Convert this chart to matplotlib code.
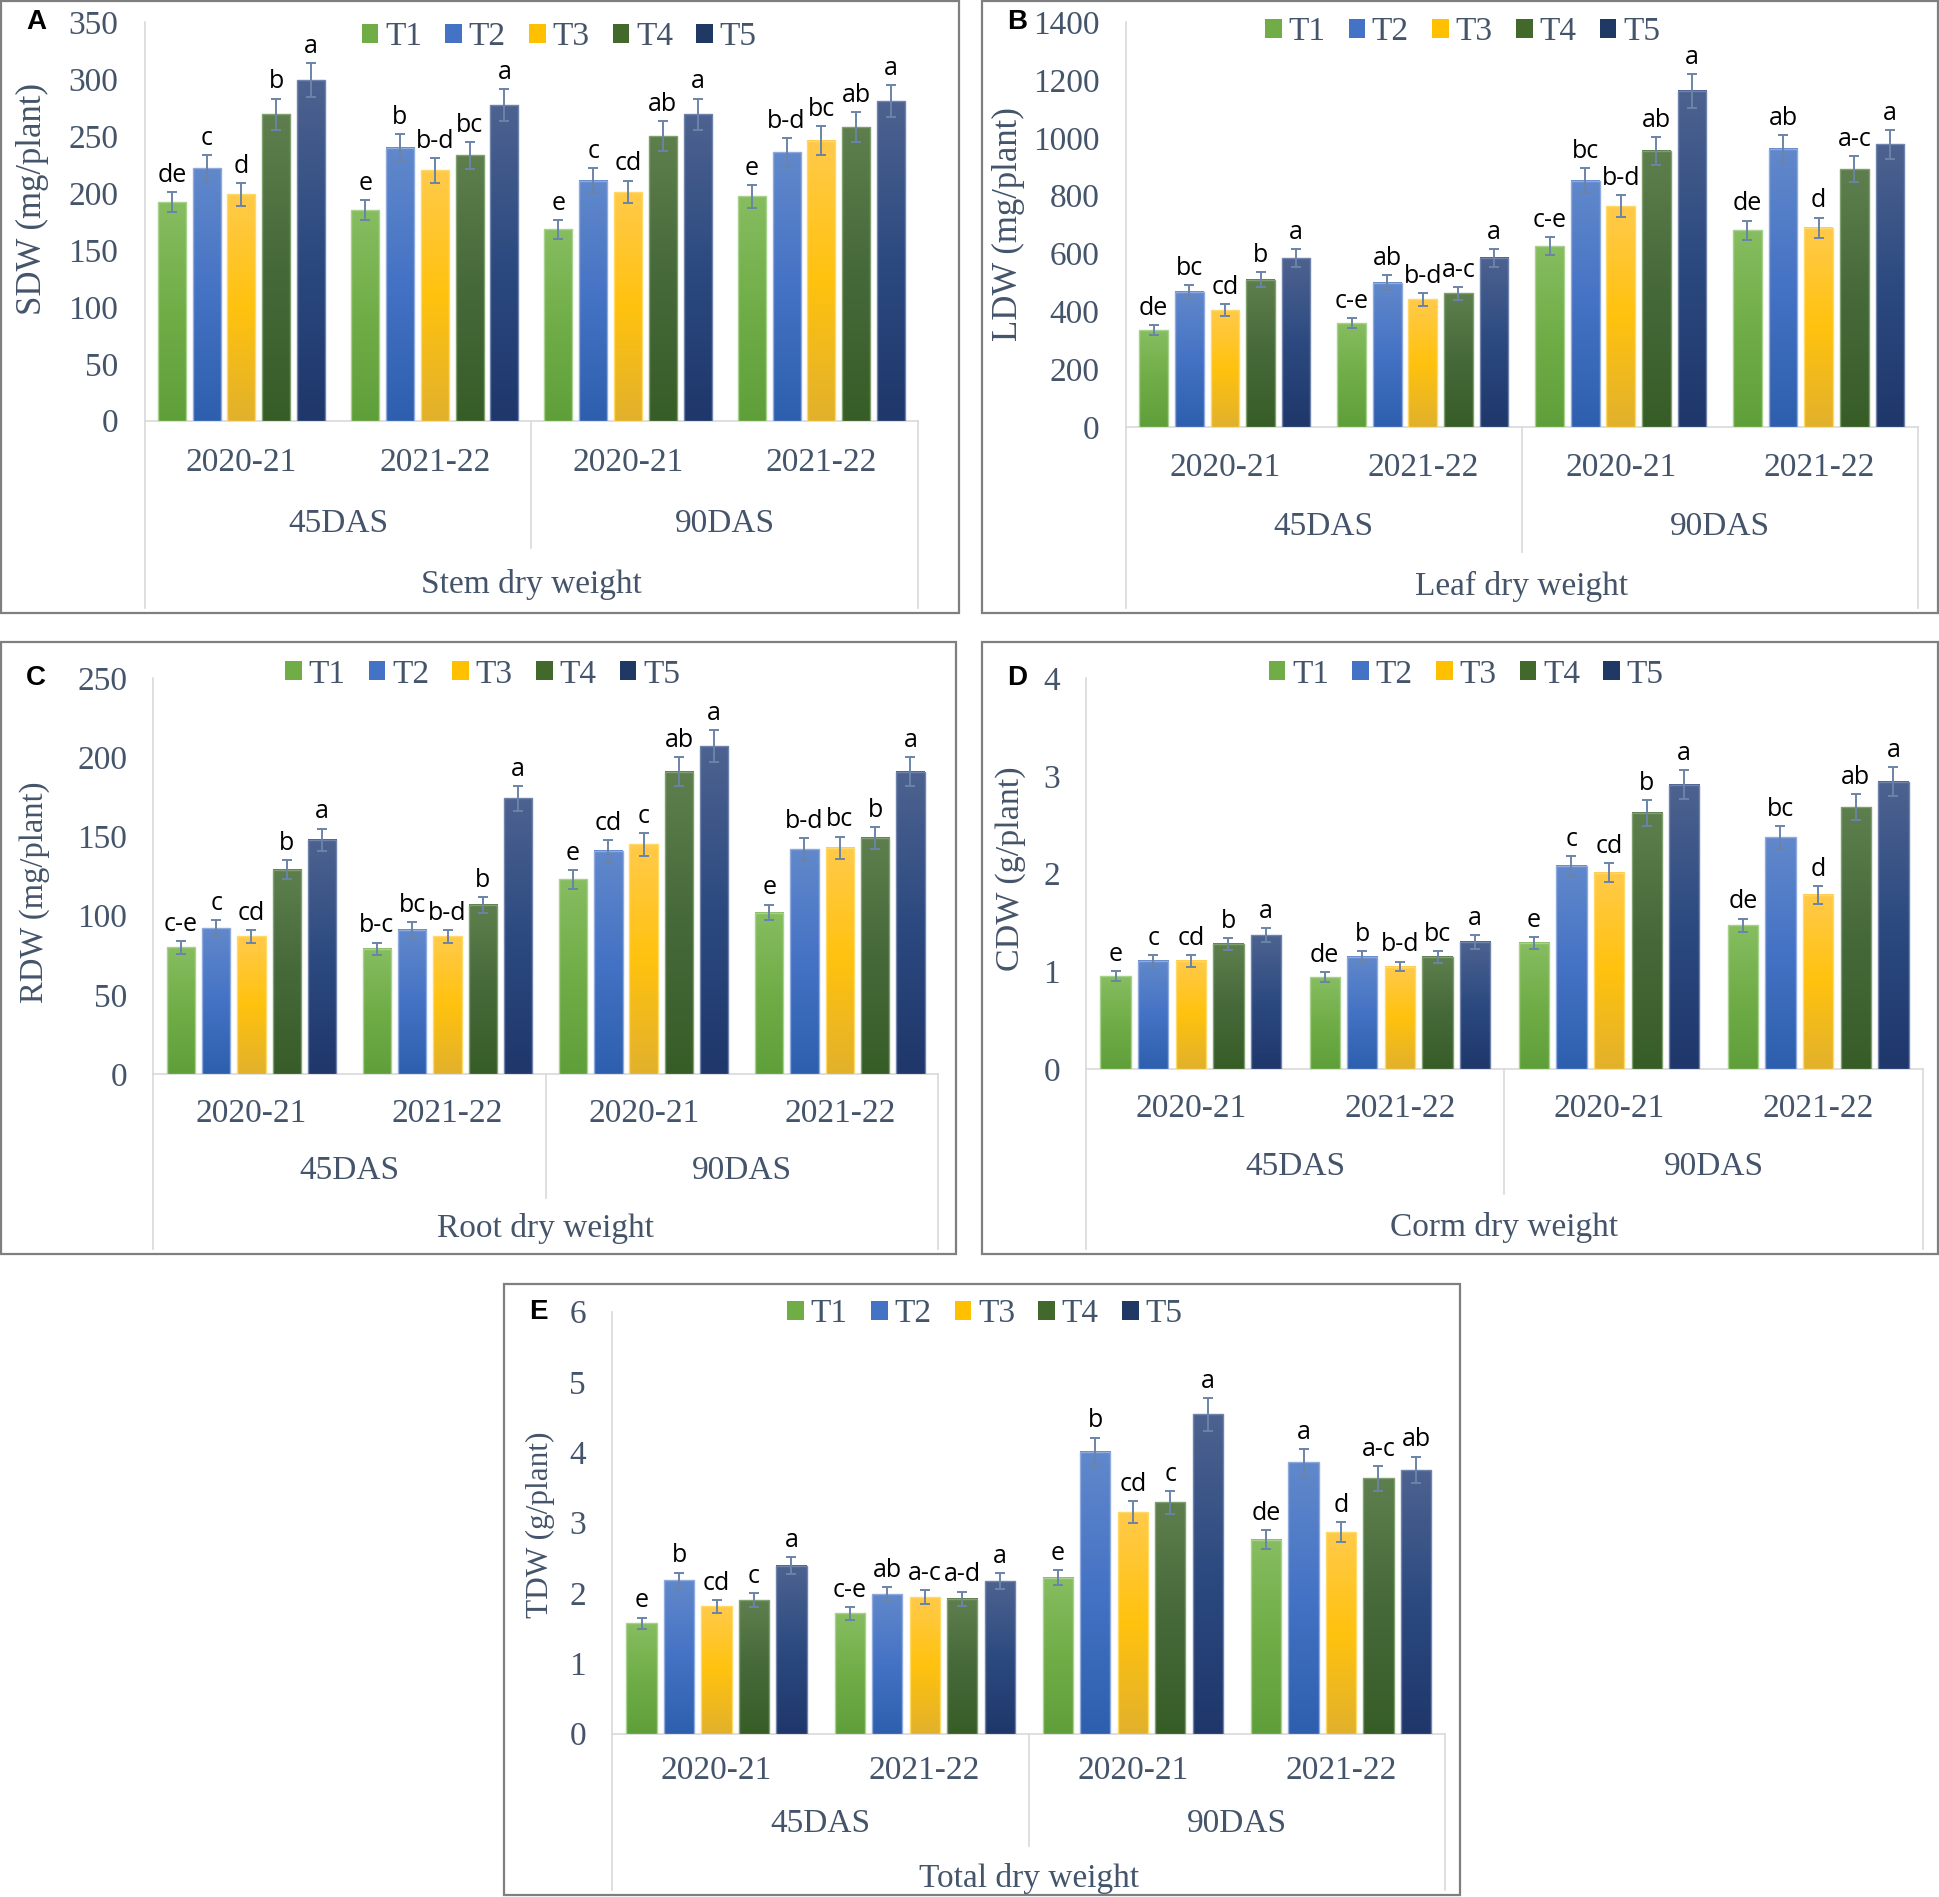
import numpy as np
from matplotlib import pyplot as plt
from matplotlib.colors import LinearSegmentedColormap
from matplotlib.patches import Rectangle, Patch
from matplotlib.transforms import blended_transform_factory

# ---- data -------------------------------------------------------------
treatments = ['T1', 'T2', 'T3', 'T4', 'T5']
years = ['2020-21', '2021-22', '2020-21', '2021-22']
stages = ['45DAS', '90DAS']

sdw = [[192, 222, 199, 269, 299], [185, 240, 220, 233, 277],
       [168, 211, 201, 250, 269], [197, 236, 246, 258, 281]]
sdw_err = [[9, 11, 10, 14, 15], [9, 12, 11, 12, 14],
           [8, 11, 10, 13, 14], [10, 12, 13, 13, 14]]
sdw_let = [['de', 'c', 'd', 'b', 'a'], ['e', 'b', 'b-d', 'bc', 'a'],
           ['e', 'c', 'cd', 'ab', 'a'], ['e', 'b-d', 'bc', 'ab', 'a']]

ldw = [[334, 468, 404, 510, 584], [359, 499, 441, 462, 585],
       [625, 852, 763, 955, 1163], [680, 962, 689, 892, 978]]
ldw_err = [[17, 24, 20, 26, 30], [18, 25, 22, 23, 30],
           [31, 43, 38, 48, 58], [34, 48, 35, 45, 50]]
ldw_let = [['de', 'bc', 'cd', 'b', 'a'], ['c-e', 'ab', 'b-d', 'a-c', 'a'],
           ['c-e', 'bc', 'b-d', 'ab', 'a'], ['de', 'ab', 'd', 'a-c', 'a']]

rdw = [[80, 92, 87, 129, 148], [79, 91, 87, 107, 174],
       [123, 141, 145, 191, 207], [102, 142, 143, 149, 191]]
rdw_err = [[4, 5, 4, 6, 7], [4, 5, 4, 5, 8],
           [6, 7, 7, 9, 10], [5, 7, 7, 7, 9]]
rdw_let = [['c-e', 'c', 'cd', 'b', 'a'], ['b-c', 'bc', 'b-d', 'b', 'a'],
           ['e', 'cd', 'c', 'ab', 'a'], ['e', 'b-d', 'bc', 'b', 'a']]

cdw = [[0.95, 1.11, 1.11, 1.28, 1.37], [0.94, 1.15, 1.05, 1.15, 1.30],
       [1.29, 2.08, 2.01, 2.62, 2.91], [1.47, 2.37, 1.78, 2.68, 2.94]]
cdw_err = [[0.05, 0.06, 0.06, 0.06, 0.07], [0.05, 0.06, 0.05, 0.06, 0.07],
           [0.06, 0.10, 0.10, 0.13, 0.15], [0.07, 0.12, 0.09, 0.13, 0.15]]
cdw_let = [['e', 'c', 'cd', 'b', 'a'], ['de', 'b', 'b-d', 'bc', 'a'],
           ['e', 'c', 'cd', 'b', 'a'], ['de', 'bc', 'd', 'ab', 'a']]

tdw = [[1.57, 2.18, 1.81, 1.90, 2.39], [1.71, 1.99, 1.94, 1.92, 2.17],
       [2.22, 4.01, 3.15, 3.29, 4.54], [2.76, 3.86, 2.87, 3.63, 3.75]]
tdw_err = [[0.08, 0.11, 0.09, 0.10, 0.12], [0.09, 0.10, 0.10, 0.10, 0.11],
           [0.11, 0.20, 0.16, 0.16, 0.23], [0.14, 0.19, 0.14, 0.18, 0.19]]
tdw_let = [['e', 'b', 'cd', 'c', 'a'], ['c-e', 'ab', 'a-c', 'a-d', 'a'],
           ['e', 'b', 'cd', 'c', 'a'], ['de', 'a', 'd', 'a-c', 'ab']]

# ---- style ------------------------------------------------------------
grad = [('#86bd60', '#70ad47', '#5f9f3a'),
        ('#6188cb', '#4472c4', '#2e5fae'),
        ('#ffca4a', '#ffc20e', '#e2b12c'),
        ('#5e7f4d', '#46693a', '#375d27'),
        ('#4d6290', '#2c4a80', '#1f376b')]
edge = ['#a9d18e', '#8faadc', '#ffd966', '#7f9f6e', '#6f83ab']
legend_cols = ['#70AD47', '#4472C4', '#FFC000', '#43682B', '#203864']
txt = '#44546A'
grid = '#D9D9D9'
serif = 'Liberation Serif'

W, H = 1568.0, 1533.0


def fx(x):
    return x / W


def fy(y):
    return 1 - y / H


fig = plt.figure(figsize=(19.40, 18.97), dpi=100)

# panel layout in reference pixel coords
panels = [
    dict(tag='A', data=sdw, err=sdw_err, let=sdw_let, ymax=350, step=50,
         ylabel='SDW (mg/plant)', title='Stem dry weight',
         box=(1, 1, 775, 495), ax=(117, 18, 742, 340), rows=(374, 423, 472),
         yl=(26, 161, 25), sep=443, bot=491, leg=(452, 30)),
    dict(tag='B', data=ldw, err=ldw_err, let=ldw_let, ymax=1400, step=200,
         ylabel='LDW (mg/plant)', title='Leaf dry weight',
         box=(794, 1, 1566, 495), ax=(910, 18, 1550, 345), rows=(378, 426, 474),
         yl=(815, 181, 25), sep=446, bot=491, leg=(1182, 26)),
    dict(tag='C', data=rdw, err=rdw_err, let=rdw_let, ymax=250, step=50,
         ylabel='RDW (mg/plant)', title='Root dry weight',
         box=(1, 519, 773, 1013), ax=(124, 548, 758, 868), rows=(900, 946, 993),
         yl=(28, 721, 23.5), sep=968, bot=1009, leg=(390, 545)),
    dict(tag='D', data=cdw, err=cdw_err, let=cdw_let, ymax=4, step=1,
         ylabel='CDW (g/plant)', title='Corm dry weight',
         box=(794, 519, 1566, 1013), ax=(878, 548, 1554, 864), rows=(896, 943, 992),
         yl=(817, 702, 24.5), sep=965, bot=1009, leg=(1185, 545)),
    dict(tag='E', data=tdw, err=tdw_err, let=tdw_let, ymax=6, step=1,
         ylabel='TDW (g/plant)', title='Total dry weight',
         box=(407, 1038, 1180, 1531), ax=(495, 1060, 1168, 1401), rows=(1431, 1474, 1518),
         yl=(437, 1232, 22.5), sep=1492, bot=1527, leg=(796, 1062)),
]

step_x = 0.18
bar_w = 0.145
grad_arr = np.linspace(0, 1, 100).reshape(-1, 1)

for p in panels:
    x0, y0, x1, y1 = p['box']
    fig.add_artist(Rectangle((fx(x0), fy(y1)), fx(x1) - fx(x0), fy(y0) - fy(y1),
                             transform=fig.transFigure, fill=False,
                             edgecolor='#7f7f7f', lw=1.6))
    l, t, r, b = p['ax']
    ax = fig.add_axes([fx(l), fy(b), fx(r) - fx(l), fy(t) - fy(b)])
    vals = np.array(p['data'])
    errs = np.array(p['err'])
    groups = np.arange(len(years))
    for i, name in enumerate(treatments):
        xs = groups + (i - 2) * step_x
        bars = ax.bar(xs, vals[:, i], width=bar_w, facecolor='none',
                      edgecolor=edge[i], lw=1.0, zorder=3)
        cmap = LinearSegmentedColormap.from_list(name, [grad[i][2], grad[i][1], grad[i][0]])
        for rect in bars:
            bx, bw, bh = rect.get_x(), rect.get_width(), rect.get_height()
            ax.imshow(grad_arr, extent=[bx, bx + bw, 0, bh], origin='lower',
                      cmap=cmap, aspect='auto', zorder=2, interpolation='bilinear')
        ax.errorbar(xs, vals[:, i], yerr=errs[:, i], fmt='none', ecolor='#6a84a8',
                    elinewidth=1.4, capsize=3.6, capthick=1.4, zorder=4)
        for j in groups:
            ax.annotate(p['let'][j][i], (xs[j], vals[j, i] + errs[j, i]),
                        xytext=(0, 3), textcoords='offset points', ha='center',
                        va='bottom', fontsize=18, family='Open Sans', color='black',
                        zorder=5)
    ax.set_xlim(-0.5, len(years) - 0.5)
    ax.set_ylim(0, p['ymax'])
    ax.set_yticks(np.arange(0, p['ymax'] + p['step'] / 2, p['step']))
    ax.set_xticks([])
    for s in ax.spines.values():
        s.set_visible(False)
    ax.tick_params(axis='y', length=0, pad=19, labelsize=24, labelcolor=txt)
    for lab in ax.get_yticklabels():
        lab.set_family(serif)

    # category axis
    tr = blended_transform_factory(ax.transData, fig.transFigure)
    for j, yr in enumerate(years):
        ax.text(j, fy(p['rows'][0]), yr, transform=tr, ha='center', va='center',
                fontsize=24, family=serif, color=txt)
    for k, st in enumerate(stages):
        ax.text(0.5 + 2 * k, fy(p['rows'][1]), st, transform=tr, ha='center',
                va='center', fontsize=24, family=serif, color=txt)
    ax.text(1.5, fy(p['rows'][2]), p['title'], transform=tr, ha='center',
            va='center', fontsize=24, family=serif, color=txt)
    ax.plot([-0.5, -0.5], [fy(t), fy(p['bot'])], transform=tr, color=grid,
            lw=1.2, clip_on=False, zorder=1)
    ax.plot([3.5, 3.5], [fy(b), fy(p['bot'])], transform=tr, color=grid,
            lw=1.2, clip_on=False, zorder=1)
    ax.plot([-0.5, 3.5], [fy(b), fy(b)], transform=tr, color=grid,
            lw=1.2, clip_on=False, zorder=1)
    ax.plot([1.5, 1.5], [fy(b), fy(p['sep'])], transform=tr, color=grid,
            lw=1.2, clip_on=False, zorder=1)

    ylx, yly, ylsize = p['yl']
    fig.text(fx(ylx), fy(yly), p['ylabel'], rotation=90,
             ha='center', va='center', fontsize=ylsize, family=serif, color=txt)
    fig.text(fx(x0 + 28), fy(t), p['tag'], ha='center', va='center',
             fontsize=20, fontweight='bold', family='Liberation Sans', color='black')

    handles = [Patch(facecolor=c, edgecolor='none', label=n)
               for n, c in zip(treatments, legend_cols)]
    leg = ax.legend(handles=handles, ncol=5, loc='center',
                    bbox_to_anchor=(fx(p['leg'][0]), fy(p['leg'][1])),
                    bbox_transform=fig.transFigure, frameon=False,
                    handlelength=0.5, handleheight=0.5, handletextpad=0.2,
                    columnspacing=0.7, borderpad=0,
                    prop={'family': serif, 'size': 24})
    for tx in leg.get_texts():
        tx.set_color(txt)

fig.savefig('out.png', dpi=100, facecolor='white')
